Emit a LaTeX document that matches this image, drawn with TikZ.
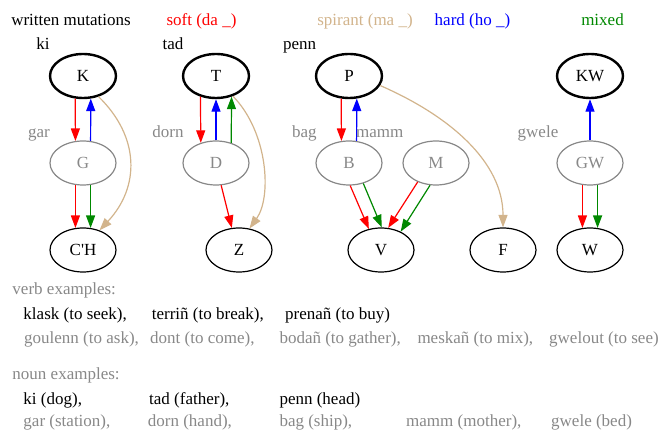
\documentclass[tikz,border=0pt]{standalone}
\usepackage{fontspec}
\setmainfont{Liberation Serif}[Ligatures=TeXOff]
\usetikzlibrary{arrows.meta,shapes.geometric}
\definecolor{gvred}{HTML}{FF0000}
\definecolor{gvblue}{HTML}{0000FF}
\definecolor{gvgreen}{HTML}{008800}
\definecolor{gvtan}{HTML}{D2B48C}
\definecolor{gvgray}{HTML}{888888}
\begin{document}
\begin{tikzpicture}[x=1bp,y=-1bp,
  every node/.style={font=\fontsize{17bp}{20bp}\selectfont},
  ell/.style={ellipse, minimum width=66bp, minimum height=44bp, inner sep=0pt},
  topnode/.style={ell, draw=black, line width=2.4bp},
  midnode/.style={ell, draw=gvgray, text=gvgray, line width=1.2bp},
  botnode/.style={ell, draw=black, line width=1.2bp},
  lbl/.style={anchor=base, inner sep=0pt},
  txt/.style={anchor=base west, inner sep=0pt},
  conn/.style={line width=1.2bp, -{Triangle[length=12.5bp,width=9bp]}},
]
\useasboundingbox (0,0) rectangle (658,439);
% headings
\node[lbl] (h0) at (71,26) {written mutations};
\node[lbl, text=gvred] (h1) at (201.5,26) {soft (da \_)};
\node[lbl, text=gvtan] (h2) at (365,26) {spirant (ma \_)};
\node[lbl, text=gvblue] (h3) at (472.5,26) {hard (ho \_)};
\node[lbl, text=gvgreen] (h4) at (602.5,26) {mixed};
\node[lbl] (w1) at (43,50) {ki};
\node[lbl] (w2) at (173,50) {tad};
\node[lbl] (w3) at (299.7,50) {penn};
\node[lbl, text=gvgray] (g1) at (39,138) {gar};
\node[lbl, text=gvgray] (g2) at (168,138) {dorn};
\node[lbl, text=gvgray] (g3) at (304.3,138) {bag};
\node[lbl, text=gvgray] (g4) at (379.7,138) {mamm};
\node[lbl, text=gvgray] (g5) at (538,138) {gwele};
% nodes
\node[topnode] (K) at (83,76) {K};
\node[topnode] (T) at (216,76) {T};
\node[topnode] (P) at (349,76) {P};
\node[topnode] (KW) at (590,76) {KW};
\node[midnode] (G) at (83,163) {G};
\node[midnode] (D) at (216,163) {D};
\node[midnode] (B) at (349,163) {B};
\node[midnode] (M) at (436,163) {M};
\node[midnode] (GW) at (590,163) {GW};
\node[botnode] (CH) at (83,250) {C'H};
\node[botnode] (Z) at (239,250) {Z};
\node[botnode] (V) at (381,250) {V};
\node[botnode] (F) at (503,250) {F};
\node[botnode] (W) at (590,250) {W};
% edges
\draw[conn, gvred] (K.-109) -- (G.109);
\draw[conn, gvblue] (G.71) -- (K.-71);
\draw[conn, gvtan] (K.-53) .. controls (140,137) and (140,187) .. (CH.50);
\draw[conn, gvred] (G.-109) -- (CH.109);
\draw[conn, gvgreen] (G.-71) -- (CH.71);
\draw[conn, gvred] (T.-127) -- (D.127);
\draw[conn, gvblue] (D.north) -- (T.south);
\draw[conn, gvgreen] (D.53) -- (T.-53);
\draw[conn, gvtan] (T.-50) .. controls (268,132) and (272,197) .. (Z.64);
\draw[conn, gvred] (D.-77) -- (Z.108);
\draw[conn, gvred] (P.-109) -- (B.109);
\draw[conn, gvblue] (B.71) -- (P.-71);
\draw[conn, gvtan] (P.-17) .. controls (450,116) and (503,162) .. (F.north);
\draw[conn, gvred] (B.-87) -- (V.120);
\draw[conn, gvgreen] (B.-55) -- (V.88);
\draw[conn, gvred] (M.-134) -- (V.72);
\draw[conn, gvgreen] (M.-105) -- (V.43);
\draw[conn, gvblue] (GW.north) -- (KW.south);
\draw[conn, gvred] (GW.-109) -- (W.109);
\draw[conn, gvgreen] (GW.-71) -- (W.71);
% examples
\node[txt, text=gvgray] (ve) at (12.3,295) {verb examples:};
\node[txt] (v1) at (23.3,320) {klask (to seek),};
\node[txt] (v2) at (151.7,320) {terriñ (to break),};
\node[txt] (v3) at (285,320) {prenañ (to buy)};
\node[txt, text=gvgray] (v4) at (24,343) {goulenn (to ask),};
\node[txt, text=gvgray] (v5) at (150,343) {dont (to come),};
\node[txt, text=gvgray] (v6) at (279.3,343) {bodañ (to gather),};
\node[txt, text=gvgray] (v7) at (417.3,343) {meskañ (to mix),};
\node[txt, text=gvgray] (v8) at (549,343) {gwelout (to see)};
\node[txt, text=gvgray] (ne) at (12.3,379) {noun examples:};
\node[txt] (n1) at (23.3,404) {ki (dog),};
\node[txt] (n2) at (149,404) {tad (father),};
\node[txt] (n3) at (279.3,404) {penn (head)};
\node[txt, text=gvgray] (n4) at (23.3,426.5) {gar (station),};
\node[txt, text=gvgray] (n5) at (147.7,426.5) {dorn (hand),};
\node[txt, text=gvgray] (n6) at (279.3,426.5) {bag (ship),};
\node[txt, text=gvgray] (n7) at (406,426.5) {mamm (mother),};
\node[txt, text=gvgray] (n8) at (551,426.5) {gwele (bed)};
\end{tikzpicture}
\end{document}
